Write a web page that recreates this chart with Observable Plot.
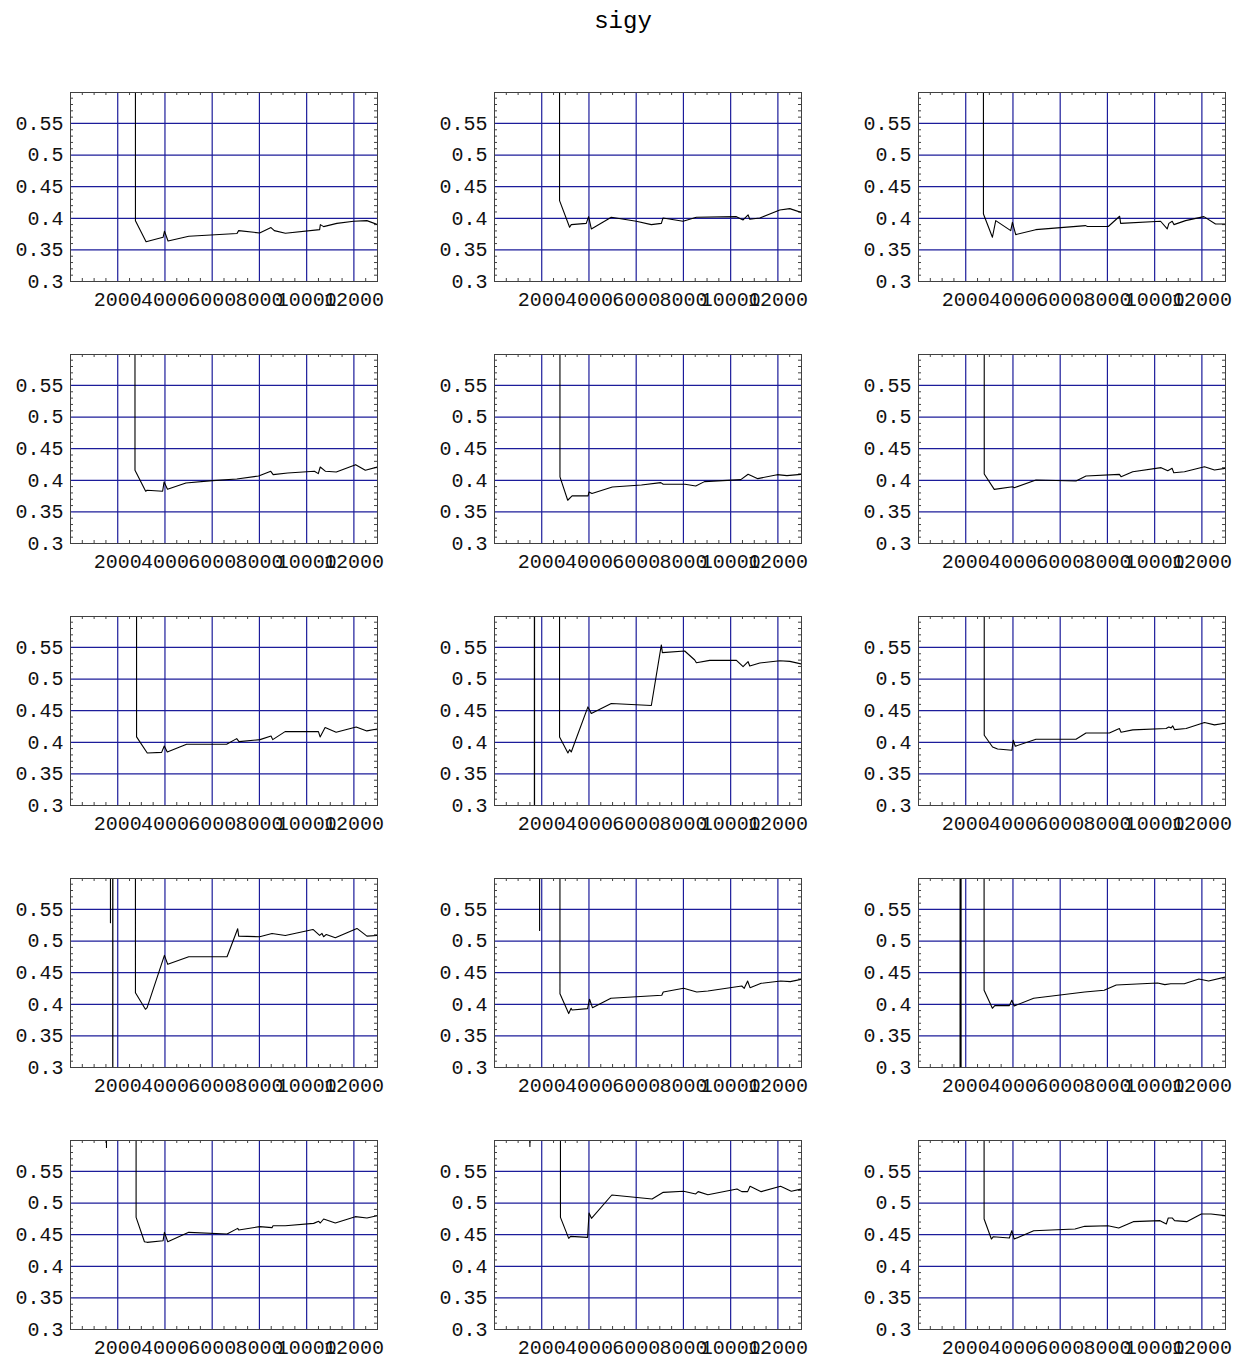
<!DOCTYPE html>
<html>
<head>
<meta charset="utf-8">
<script src="https://cdn.jsdelivr.net/npm/d3@7"></script>
<script src="https://cdn.jsdelivr.net/npm/@observablehq/plot@0.6"></script>
<style>
  body { margin: 0; background: #fff; }
  #title { height: 52px; padding-top: 10px; text-align: center; font-family: "Liberation Mono", monospace; font-size: 24px; line-height: 24px; color: #000; }
  #grid { display: grid; grid-template-columns: 424px 424px 424px; grid-auto-rows: 262px; }
  #grid svg { display: block; }
</style>
</head>
<body>
<div id="title">sigy</div>
<div id="grid"></div>
<script>
const title = "sigy";
const xTicks = [2000, 4000, 6000, 8000, 10000, 12000];
const yTicks = [0.3, 0.35, 0.4, 0.45, 0.5, 0.55];
const xDomain = [0, 13000];
const yDomain = [0.3, 0.599];

const panel01 = [[2745,2],[2750,0.396],[3200,0.363],[3920,0.370],[3980,0.3795],[4130,0.364],[5010,0.3716],[7050,0.376],[7120,0.3805],[8010,0.3768],[8490,0.3853],[8630,0.3805],[9100,0.3763],[10550,0.382],[10580,0.390],[10720,0.3868],[11280,0.392],[11990,0.3953],[12550,0.3963],[13000,0.390]];
const panel02 = [[2750,2],[2755,0.428],[3180,0.3858],[3250,0.390],[3886,0.392],[3985,0.4026],[4100,0.3832],[4945,0.4016],[6005,0.3953],[6640,0.390],[7065,0.392],[7136,0.4005],[7984,0.3953],[8550,0.4016],[10245,0.4026],[10527,0.3974],[10740,0.4053],[10810,0.3984],[11234,0.4005],[12080,0.4132],[12505,0.4153],[13000,0.409]];
const panel03 = [[2745,2],[2750,0.4068],[3130,0.370],[3271,0.3963],[3906,0.3805],[3976,0.3937],[4117,0.3742],[4963,0.382],[7078,0.3884],[7150,0.387],[8037,0.387],[8517,0.4032],[8560,0.392],[10251,0.3953],[10533,0.3832],[10603,0.392],[10744,0.3953],[10815,0.390],[11308,0.3963],[12084,0.4026],[12577,0.391],[13000,0.391]];
const panel04 = [[2726,2],[2731,0.4158],[3183,0.3826],[3244,0.3842],[3901,0.3826],[3963,0.3974],[4107,0.3858],[4887,0.3958],[6016,0.3995],[7043,0.402],[7967,0.4068],[8480,0.4142],[8583,0.409],[9199,0.4116],[10329,0.4142],[10493,0.4105],[10575,0.421],[10801,0.4142],[11253,0.4132],[12074,0.4247],[12485,0.4158],[13000,0.421]];
const panel05 = [[2767,2],[2772,0.4053],[3100,0.3684],[3285,0.3753],[3963,0.3753],[4004,0.3816],[4127,0.379],[4990,0.3895],[6222,0.3926],[7043,0.3963],[7146,0.3937],[8070,0.3937],[8522,0.391],[8891,0.3979],[10431,0.401],[10739,0.4095],[11150,0.4026],[11971,0.4089],[12382,0.4074],[13000,0.4095]];
const panel06 = [[2779,2],[2784,0.4099],[3208,0.3856],[3985,0.3898],[4055,0.3882],[4974,0.4004],[6670,0.3988],[7093,0.4067],[8506,0.4094],[8577,0.4057],[9072,0.4136],[10273,0.42],[10556,0.4152],[10740,0.4189],[10810,0.412],[11262,0.4136],[12110,0.4215],[12534,0.4162],[13000,0.4189]];
const panel07 = [[2793,2],[2798,0.4085],[3250,0.383],[3858,0.3841],[3971,0.3942],[4098,0.3847],[4917,0.3968],[6613,0.3968],[7037,0.4058],[7136,0.401],[8026,0.4042],[8492,0.41],[8563,0.4042],[9086,0.4169],[10499,0.4169],[10570,0.4085],[10781,0.4233],[11248,0.4159],[12096,0.4243],[12548,0.418],[13000,0.4212]];
const panel08 = [[1686,2],[1692,-2],[1699,2],[2750,2],[2755,0.4085],[3109,0.383],[3180,0.3884],[3250,0.3847],[3956,0.456],[4098,0.4455],[4945,0.4614],[6641,0.4582],[7065,0.554],[7108,0.5418],[8054,0.5444],[8478,0.5302],[8549,0.5259],[9114,0.5296],[10245,0.5296],[10527,0.5196],[10739,0.5275],[10810,0.5206],[11234,0.5254],[12081,0.5291],[12505,0.528],[13000,0.5238]];
const panel09 = [[2779,2],[2784,0.4111],[3137,0.3926],[3349,0.3894],[3956,0.3873],[4013,0.4032],[4098,0.3937],[4974,0.4048],[6670,0.4048],[7093,0.4148],[8082,0.4148],[8506,0.4217],[8577,0.4159],[9072,0.4196],[10485,0.4217],[10598,0.4243],[10697,0.4228],[10767,0.4259],[10838,0.4201],[11333,0.4217],[12110,0.4312],[12534,0.4275],[13000,0.4302]];
const panel10 = [[1686,2],[1692,0.529],[1698,2],[1786,2],[1791,-2],[1796,2],[2745,2],[2750,0.4184],[3173,0.3921],[3244,0.3947],[3977,0.4774],[4118,0.4632],[5007,0.4753],[6629,0.4753],[7080,0.5195],[7123,0.5079],[8011,0.5068],[8533,0.5121],[9097,0.5089],[10268,0.5184],[10550,0.5089],[10649,0.5121],[10719,0.5068],[10832,0.5105],[11213,0.5053],[12130,0.52],[12553,0.5079],[13000,0.5089]];
const panel11 = [[1905,2],[1910,0.5168],[1915,2],[2767,2],[2772,0.4168],[3142,0.3853],[3244,0.3937],[3285,0.391],[3942,0.3932],[4025,0.4079],[4148,0.3947],[4928,0.4095],[7084,0.4142],[7146,0.4195],[8008,0.4253],[8563,0.4195],[9035,0.4211],[10472,0.4289],[10575,0.4253],[10719,0.4368],[10821,0.4263],[11294,0.4332],[12115,0.4368],[12526,0.4358],[13000,0.4395]];
const panel12 = [[1758,-2],[1762,2],[1798,2],[1801,-2],[1804,2],[2773,2],[2778,0.4221],[3128,0.3937],[3230,0.3979],[3848,0.3979],[3951,0.4063],[4053,0.3974],[4877,0.4095],[7037,0.4195],[7860,0.4221],[8374,0.4305],[10123,0.4337],[10432,0.4311],[10679,0.4326],[11255,0.4326],[11872,0.44],[12284,0.4368],[13000,0.4432]];
const panel13 = [[1516,2],[1523,0.588],[1530,2],[2773,2],[2778,0.4774],[3131,0.4389],[3244,0.4379],[3921,0.4405],[3977,0.4537],[4118,0.4389],[5007,0.4537],[6629,0.4511],[7080,0.46],[7123,0.4574],[8011,0.4627],[8533,0.4611],[8576,0.4642],[9097,0.4642],[10296,0.4679],[10508,0.4711],[10578,0.4685],[10719,0.4748],[11213,0.4685],[12059,0.4785],[12553,0.4764],[13000,0.4801]];
const panel14 = [[1495,2],[1499,0.5895],[1503,2],[2788,2],[2793,0.4774],[3142,0.4442],[3224,0.4474],[3942,0.4458],[4004,0.4843],[4107,0.4759],[4969,0.5128],[6674,0.5065],[7146,0.517],[8008,0.5186],[8522,0.5144],[8624,0.5181],[9035,0.5133],[10267,0.5223],[10472,0.5181],[10719,0.5181],[10821,0.5265],[11294,0.5181],[12115,0.5265],[12567,0.5186],[13000,0.5223]];
const panel15 = [[1685,2],[1688,0.596],[1691,2],[2773,2],[2778,0.4748],[3086,0.4431],[3169,0.4468],[3848,0.4447],[3951,0.4563],[4053,0.4431],[4877,0.4563],[6626,0.459],[7037,0.4632],[8025,0.4642],[8477,0.4606],[9095,0.4706],[10226,0.4722],[10494,0.4669],[10576,0.4764],[10741,0.4764],[10844,0.4722],[11358,0.4706],[11975,0.4827],[12387,0.4827],[13000,0.4801]];

const panels = [panel01, panel02, panel03, panel04, panel05, panel06, panel07, panel08, panel09, panel10, panel11, panel12, panel13, panel14, panel15];

const xMinor = d3.range(500, 13000, 500).filter(v => v % 2000 !== 0);
const yMinor = d3.range(31, 60).filter(v => v % 5 !== 0).map(v => v / 100);

const W = 424, H = 262, ML = 70, MR = 47, MT = 30, MB = 43;
const FW = W - ML - MR, FH = H - MT - MB;
const gridColor = "#1c1c9a";
const frameColor = "#404040";

const grid = document.getElementById("grid");
for (const data of panels) {
  const chart = Plot.plot({
    width: W, height: H,
    marginLeft: ML, marginRight: MR, marginTop: MT, marginBottom: MB,
    style: { fontFamily: "'Liberation Mono', 'DejaVu Sans Mono', monospace", fontSize: "20px", background: "#fff", color: "#111", overflow: "visible" },
    x: { domain: xDomain, ticks: xTicks, tickSize: 0, tickPadding: 10, tickFormat: d => String(d), label: null },
    y: { domain: yDomain, ticks: yTicks, tickSize: 0, tickPadding: 7, tickFormat: d => String(d), label: null },
    marks: [
      Plot.ruleX(xTicks, { x: d => d, stroke: gridColor, strokeWidth: 1.2 }),
      Plot.ruleY(yTicks.slice(1), { y: d => d, stroke: gridColor, strokeWidth: 1.2 }),
      Plot.tickX(xMinor, { x: d => d, insetTop: FH - 3, stroke: frameColor }),
      Plot.tickX(xMinor, { x: d => d, insetBottom: FH - 3, stroke: frameColor }),
      Plot.tickY(yMinor, { y: d => d, insetRight: FW - 3, stroke: frameColor }),
      Plot.tickY(yMinor, { y: d => d, insetLeft: FW - 3, stroke: frameColor }),
      Plot.line(data, { x: d => d[0], y: d => d[1], stroke: "#000", strokeWidth: 1.1, clip: true }),
      Plot.frame({ stroke: frameColor, strokeWidth: 1 })
    ]
  });
  grid.appendChild(chart);
}
</script>
</body>
</html>
